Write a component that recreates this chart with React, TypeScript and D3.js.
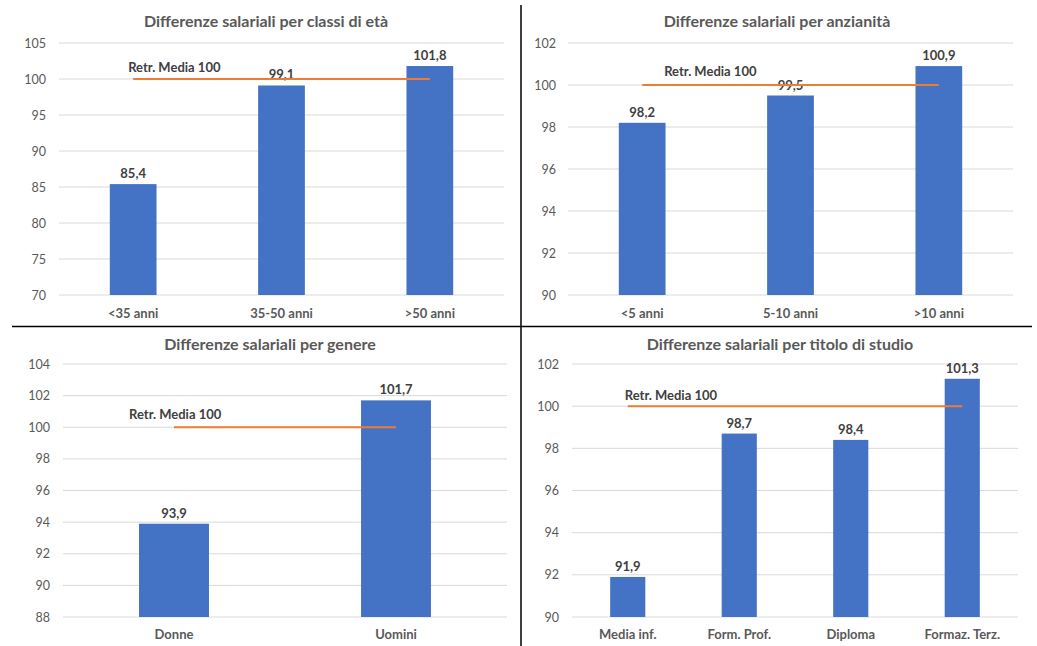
import React from "react";
import * as d3 from "d3";

// ---- Data ----
const ageCategories = ["<35 anni", "35-50 anni", ">50 anni"];
const ageValues = [85.4, 99.1, 101.8];
const ageTicks = [70, 75, 80, 85, 90, 95, 100, 105];

const seniorityCategories = ["<5 anni", "5-10 anni", ">10 anni"];
const seniorityValues = [98.2, 99.5, 100.9];
const seniorityTicks = [90, 92, 94, 96, 98, 100, 102];

const genderCategories = ["Donne", "Uomini"];
const genderValues = [93.9, 101.7];
const genderTicks = [88, 90, 92, 94, 96, 98, 100, 102, 104];

const educationCategories = ["Media inf.", "Form. Prof.", "Diploma", "Formaz. Terz."];
const educationValues = [91.9, 98.7, 98.4, 101.3];
const educationTicks = [90, 92, 94, 96, 98, 100, 102];

const referenceValue = 100;
const referenceLabel = "Retr. Media 100";

const titles = [
  "Differenze salariali per classi di età",
  "Differenze salariali per anzianità",
  "Differenze salariali per genere",
  "Differenze salariali per titolo di studio",
];

const FONT = "Lato, 'Open Sans', sans-serif";
const BAR = "#4472C4";
const LINE = "#ED7D31";
const GRID = "#D9D9D9";
const AXIS_TEXT = "#595959";

const itLocale = d3.formatLocale({ decimal: ",", thousands: ".", grouping: [3], currency: ["€", ""] });
const fmt = itLocale.format(".1f");

type PanelProps = {
  title: string;
  categories: string[];
  values: number[];
  ticks: number[];
  x0: number; x1: number; y0: number; y1: number;
  titleX: number; titleY: number;
  tickRight: number;
  catY: number;
  refDx: number; refDy: number;
};

function Panel(p: PanelProps) {
  const n = p.categories.length;
  const pad = 0.685;
  const x = d3.scaleBand<string>()
    .domain(p.categories)
    .range([p.x0, p.x1])
    .paddingInner(pad)
    .paddingOuter(pad / 2);
  const y = d3.scaleLinear()
    .domain([p.ticks[0], p.ticks[p.ticks.length - 1]])
    .range([p.y1, p.y0]);
  const bw = x.bandwidth();
  const cx = (c: string) => (x(c) as number) + bw / 2;
  const lx0 = cx(p.categories[0]);
  const lx1 = cx(p.categories[n - 1]);
  const ly = y(referenceValue);
  return (
    <g>
      <text x={p.titleX} y={p.titleY} textAnchor="middle" dominantBaseline="central"
        fontFamily={FONT} fontWeight={700} fontSize={16} fill="#595959">{p.title}</text>
      {p.ticks.map((t) => (
        <g key={t}>
          <line x1={p.x0} x2={p.x1} y1={y(t)} y2={y(t)} stroke={GRID} strokeWidth={1} />
          <text x={p.tickRight} y={y(t)} textAnchor="end" dominantBaseline="central"
            fontFamily={FONT} fontSize={12.5} fill={AXIS_TEXT}>{t}</text>
        </g>
      ))}
      {p.categories.map((c, i) => (
        <g key={c}>
          <rect x={x(c)} y={y(p.values[i])} width={bw} height={p.y1 - y(p.values[i])} fill={BAR} />
          <text x={cx(c)} y={y(p.values[i]) - 6} textAnchor="middle"
            fontFamily={FONT} fontWeight={700} fontSize={13} fill="#404040">{fmt(p.values[i])}</text>
          <text x={cx(c)} y={p.catY} textAnchor="middle" dominantBaseline="central"
            fontFamily={FONT} fontWeight={700} fontSize={13} fill={AXIS_TEXT}>{c}</text>
        </g>
      ))}
      <line x1={lx0} x2={lx1} y1={ly} y2={ly} stroke={LINE} strokeWidth={2} />
      <text x={lx0 + p.refDx} y={ly - p.refDy}
        fontFamily={FONT} fontWeight={700} fontSize={13} fill="#404040">{referenceLabel}</text>
    </g>
  );
}

export default function App() {
  return (
    <svg width={1037} height={646} style={{ position: "absolute", left: 0, top: 0, background: "#fff" }}>
      <rect x={0} y={0} width={1037} height={646} fill="#fff" />
      <Panel title={titles[0]} categories={ageCategories} values={ageValues} ticks={ageTicks}
        x0={59} x1={504} y0={43} y1={295} titleX={266} titleY={20} tickRight={46} catY={313}
        refDx={-5} refDy={7} />
      <Panel title={titles[1]} categories={seniorityCategories} values={seniorityValues} ticks={seniorityTicks}
        x0={568} x1={1013} y0={43} y1={295} titleX={777} titleY={20} tickRight={556} catY={313}
        refDx={22} refDy={9} />
      <Panel title={titles[2]} categories={genderCategories} values={genderValues} ticks={genderTicks}
        x0={63} x1={507} y0={364} y1={617} titleX={270} titleY={343} tickRight={50} catY={634}
        refDx={-45} refDy={8} />
      <Panel title={titles[3]} categories={educationCategories} values={educationValues} ticks={educationTicks}
        x0={572} x1={1018} y0={364} y1={617} titleX={780} titleY={343} tickRight={559} catY={634}
        refDx={-3} refDy={6} />
      <line x1={12} x2={1032} y1={326.5} y2={326.5} stroke="#000" strokeWidth={1.5} />
      <line x1={521} x2={521} y1={5} y2={646} stroke="#000" strokeWidth={1.5} />
    </svg>
  );
}
